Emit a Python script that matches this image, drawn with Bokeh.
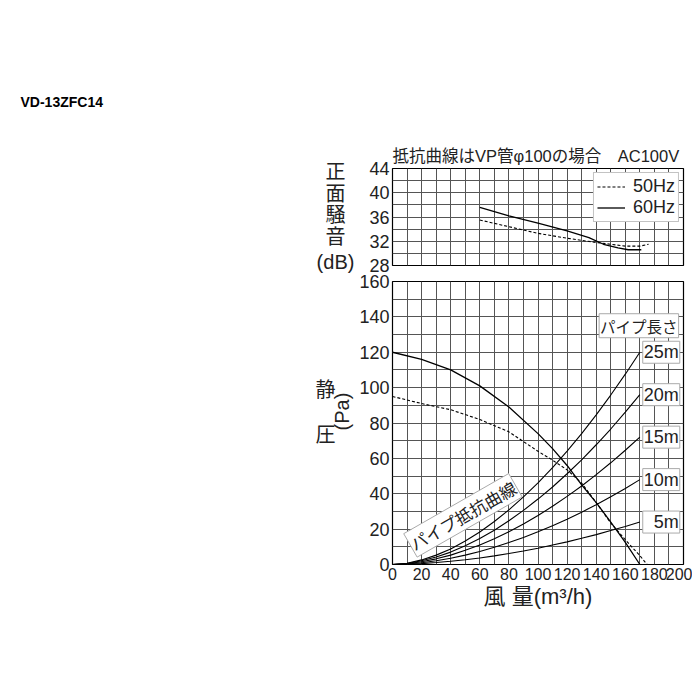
from bokeh.plotting import figure
from bokeh.models import (Range1d, SingleIntervalTicker, Label, Legend, LegendItem)
from bokeh.layouts import column, row
from bokeh.embed import file_html
from bokeh.resources import INLINE

# ---------------- data ----------------
model_name = "VD-13ZFC14"
title_text = "抵抗曲線はVP管φ100の場合\u2003AC100V"

# noise (dB) vs airflow (m3/h)
noise_x_50 = [60, 80, 100, 120, 140, 150, 160, 170, 176]
noise_50 = [35.5, 34.4, 33.3, 32.5, 31.8, 31.5, 31.2, 31.2, 31.5]
noise_x_60 = [60, 80, 100, 120, 135, 145, 155, 162, 171]
noise_60 = [37.6, 36.2, 35.0, 33.7, 32.6, 31.5, 30.9, 30.6, 30.6]

# static pressure (Pa) vs airflow
pq_x_60 = [0, 20, 40, 60, 80, 100, 110, 120, 130, 140, 150, 160, 170]
pq_60 = [120, 116, 110, 101, 89, 74, 65.5, 56, 45, 35, 24, 12.5, 0]
pq_x_50 = [0, 20, 40, 60, 80, 100, 110, 120, 130, 140, 150, 160, 170, 175]
pq_50 = [95, 91, 87.5, 82, 75, 64, 59, 53.5, 46, 35, 23.5, 14, 5, 0]

# pipe resistance curves
pipe_x = [0, 10, 20, 30, 40, 50, 60, 70, 80, 90, 100, 110, 120, 130, 140, 150, 160, 170]
pipe_25 = [0, 0.7, 2.6, 5.3, 8.8, 13.3, 18.4, 24.3, 30.9, 38.2, 46.2, 54.8, 64.1, 74.0, 84.6, 95.8, 107.6, 120]
pipe_20 = [0, 0.6, 2.1, 4.2, 7.0, 10.6, 14.7, 19.4, 24.7, 30.6, 37.0, 43.8, 51.3, 59.2, 67.7, 76.6, 86.1, 96]
pipe_15 = [0, 0.4, 1.6, 3.2, 5.3, 8.0, 11.0, 14.6, 18.5, 22.9, 27.7, 32.9, 38.5, 44.4, 50.8, 57.5, 64.6, 72]
pipe_10 = [0, 0.3, 1.0, 2.1, 3.5, 5.3, 7.4, 9.7, 12.4, 15.3, 18.5, 21.9, 25.6, 29.6, 33.8, 38.3, 43.0, 48]
pipe_5 = [0, 0.1, 0.5, 1.1, 1.8, 2.7, 3.7, 4.9, 6.2, 7.6, 9.2, 11.0, 12.8, 14.8, 16.9, 19.2, 21.5, 24]
pipe_names = ["25m", "20m", "15m", "10m", "\u20075m"]
pipe_series = [pipe_25, pipe_20, pipe_15, pipe_10, pipe_5]

# ---------------- style ----------------
LAT = "'Liberation Sans', 'Noto Sans CJK JP'"
CJK = "'Noto Sans CJK JP'"
TXT = "#222222"
GRID = "#555555"
LW = 1.3
LEFT_W = 356

def style(p):
    p.outline_line_color = "black"
    p.outline_line_width = 1.2
    for ax in (p.xaxis, p.yaxis):
        ax.axis_line_color = None
        ax.major_tick_line_color = None
        ax.minor_tick_line_color = None
        ax.major_tick_out = 0
        ax.major_tick_in = 0
        ax.minor_tick_out = 0
        ax.minor_tick_in = 0
        ax.major_label_text_color = TXT
    p.yaxis.major_label_text_font = LAT
    p.yaxis.major_label_text_font_size = "18px"
    p.yaxis.major_label_standoff = 3
    p.xgrid.ticker = SingleIntervalTicker(interval=10)
    p.xgrid.grid_line_color = GRID
    p.ygrid.grid_line_color = GRID
    p.xgrid.grid_line_width = 1
    p.ygrid.grid_line_width = 1
    p.background_fill_color = "white"
    p.border_fill_color = "white"

# ---------------- left side text panel (pixel-like data coords) ----------------
pl = figure(width=LEFT_W, height=624, output_backend="svg", toolbar_location=None,
            x_range=Range1d(0, LEFT_W), y_range=Range1d(624, 0),
            min_border_left=0, min_border_right=0, min_border_top=0, min_border_bottom=0)
pl.xaxis.visible = False
pl.yaxis.visible = False
pl.grid.visible = False
pl.outline_line_color = None

def tl(x, y, text, font, size, **kw):
    pl.add_layout(Label(x=x, y=y, text=text, text_font=font, text_font_size=size,
                        text_color=kw.pop("color", TXT), text_baseline="middle",
                        text_align=kw.pop("align", "center"), **kw))

tl(20, 101.7, model_name, LAT, "14px", align="left", text_font_style="bold", color="black")
for ch, y in zip(["正", "面", "騒", "音"], [170, 191.7, 213.3, 235]):
    tl(335, y, ch, CJK, "20px")
tl(335, 261.7, "(dB)", LAT, "20px")
tl(325, 388, "静", CJK, "20px")
tl(325, 433, "圧", CJK, "20px")
tl(341.7, 411, "(Pa)", LAT, "20px", angle=1.5708)

# ---------------- top: noise ----------------
p1 = figure(width=692 - LEFT_W, height=274, output_backend="svg", toolbar_location=None,
            x_range=Range1d(0, 200), y_range=Range1d(28, 44),
            min_border_left=391 - LEFT_W, min_border_right=9, min_border_top=168,
            min_border_bottom=9)
style(p1)
p1.xaxis.visible = False
p1.yaxis.ticker = SingleIntervalTicker(interval=4)
p1.ygrid.ticker = SingleIntervalTicker(interval=2)
p1.title.text = title_text
p1.title.align = "left"
p1.title.text_font = LAT
p1.title.text_font_size = "16.5px"
p1.title.text_font_style = "normal"
p1.title.text_color = TXT
p1.title.standoff = 7

r50 = p1.line(noise_x_50, noise_50, line_color="black", line_width=1.1, line_dash="3 2")
r60 = p1.line(noise_x_60, noise_60, line_color="black", line_width=LW)
leg = Legend(items=[LegendItem(label="50Hz", renderers=[r50]),
                    LegendItem(label="60Hz", renderers=[r60])],
             location="top_right", margin=4, padding=3, spacing=0,
             label_text_font=LAT, label_text_font_size="18px", label_text_color=TXT,
             label_height=19, glyph_height=19, glyph_width=28, label_standoff=8,
             border_line_color="#888888", background_fill_color="white",
             background_fill_alpha=1)
p1.add_layout(leg)

# ---------------- bottom: PQ ----------------
p2 = figure(width=692 - LEFT_W, height=350, output_backend="svg", toolbar_location=None,
            x_range=Range1d(0, 200), y_range=Range1d(0, 160),
            min_border_left=391 - LEFT_W, min_border_right=9, min_border_top=7,
            min_border_bottom=60)
style(p2)
p2.xaxis.ticker = SingleIntervalTicker(interval=20)
p2.yaxis.ticker = SingleIntervalTicker(interval=20)
p2.ygrid.ticker = SingleIntervalTicker(interval=10)
p2.xaxis.major_label_text_font = LAT
p2.xaxis.major_label_text_font_size = "16px"
p2.xaxis.major_label_standoff = 3
p2.xaxis.axis_label = "風 量(m³/h)"
p2.xaxis.axis_label_text_font = LAT
p2.xaxis.axis_label_text_font_size = "22px"
p2.xaxis.axis_label_text_font_style = "normal"
p2.xaxis.axis_label_text_color = TXT
p2.xaxis.axis_label_standoff = 1

for ys in pipe_series:
    p2.line(pipe_x, ys, line_color="black", line_width=1.1)
p2.line(pq_x_50, pq_50, line_color="black", line_width=1.1, line_dash="3 2")
p2.line(pq_x_60, pq_60, line_color="black", line_width=LW)

for name, ys in zip(pipe_names, pipe_series):
    p2.add_layout(Label(x=172, y=ys[-1], text=name, text_font=LAT, text_font_size="18px",
                        text_color=TXT, text_baseline="middle", text_align="left",
                        background_fill_color="white", border_line_color="#aaaaaa",
                        padding=1))
p2.add_layout(Label(x=142, y=135, text="パイプ長さ", text_font=CJK, text_font_size="15.5px",
                    text_color=TXT, text_baseline="middle", text_align="left",
                    background_fill_color="white", border_line_color="#aaaaaa", padding=1))
p2.add_layout(Label(x=48.4, y=27.8, text="パイプ抵抗曲線", text_font=CJK, text_font_size="17px",
                    text_color=TXT, text_baseline="middle", text_align="center",
                    angle=0.52, background_fill_color="white", border_line_color="#aaaaaa",
                    padding=1))

layout = row(pl, column(p1, p2, spacing=0), spacing=0)
open("out.html", "w").write(file_html(layout, INLINE))
